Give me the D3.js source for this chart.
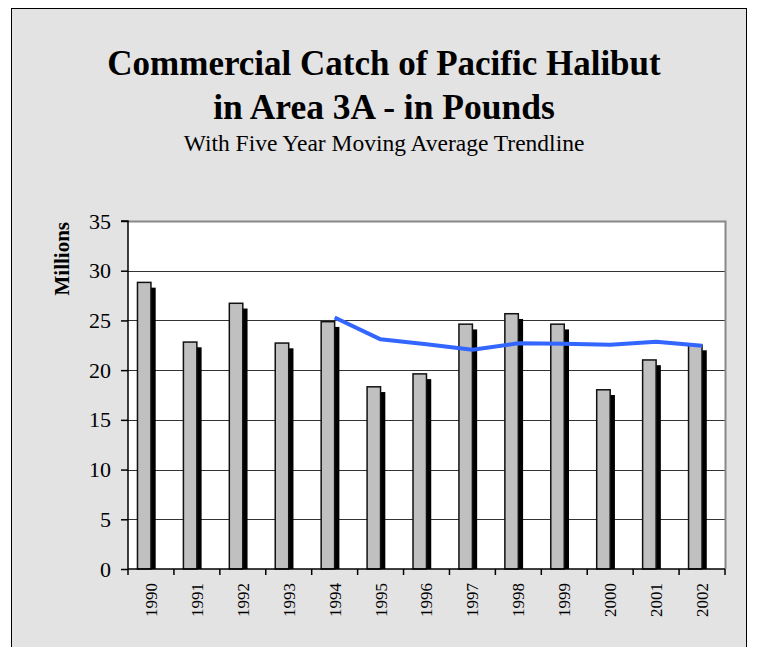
<!DOCTYPE html>
<html>
<head>
<meta charset="utf-8">
<script src="https://cdn.jsdelivr.net/npm/d3@7/dist/d3.min.js"></script>
<style>
  html, body { margin: 0; padding: 0; background: #ffffff; }
  svg { display: block; }
  text { font-family: "Liberation Serif", "Times New Roman", serif; }
</style>
</head>
<body>
<svg id="chart" width="757" height="647"></svg>
<script>
const years = ["1990","1991","1992","1993","1994","1995","1996","1997","1998","1999","2000","2001","2002"];
const catchMillions = [28.9, 22.9, 26.8, 22.8, 24.95, 18.4, 19.7, 24.7, 25.75, 24.7, 18.1, 21.1, 22.6];
const avgYears = ["1994","1995","1996","1997","1998","1999","2000","2001","2002"];
const movingAverage = [25.3, 23.1, 22.6, 22.05, 22.7, 22.65, 22.55, 22.85, 22.45];
const yTicks = [0, 5, 10, 15, 20, 25, 30, 35];
const titleLines = ["Commercial Catch of Pacific Halibut", "in Area 3A - in Pounds"];
const subtitle = "With Five Year Moving Average Trendline";
const yAxisTitle = "Millions";

const svg = d3.select("#chart");

// chart background and border
svg.append("rect").attr("x", 11.5).attr("y", 8.5).attr("width", 735).attr("height", 700)
  .attr("fill", "#e3e3e3").attr("stroke", "#000").attr("stroke-width", 1);

const plot = {left: 128, right: 725, top: 221, bottom: 569};

const x = d3.scaleBand().domain(years).range([plot.left, plot.right]);
const y = d3.scaleLinear().domain([0, 35]).range([plot.bottom, plot.top]);

// plot area
svg.append("rect").attr("x", plot.left).attr("y", plot.top)
  .attr("width", plot.right - plot.left).attr("height", plot.bottom - plot.top)
  .attr("fill", "#ffffff");

// gridlines
svg.append("g").selectAll("line").data(yTicks.filter(t => t > 0 && t < 35)).join("line")
  .attr("x1", plot.left).attr("x2", plot.right)
  .attr("y1", d => Math.round(y(d)) + 0.5).attr("y2", d => Math.round(y(d)) + 0.5)
  .attr("stroke", "#333").attr("stroke-width", 1);

// plot border (top & right grey)
svg.append("path")
  .attr("d", `M${plot.left},${plot.top + 0.5}H${plot.right + 0.5}V${plot.bottom}`)
  .attr("fill", "none").attr("stroke", "#888").attr("stroke-width", 2);

// bars
const bw = x.bandwidth();
const barOff = bw * 0.19, barW = bw * 0.326;
const bars = svg.append("g");
years.forEach((yr, i) => {
  const v = catchMillions[i];
  const bx = x(yr) + barOff;
  const by = y(v);
  bars.append("rect").attr("x", bx + 4).attr("y", by + 6)
    .attr("width", barW).attr("height", Math.max(0, plot.bottom - by - 6))
    .attr("fill", "#000");
  bars.append("rect").attr("x", bx + 0.75).attr("y", by + 0.75)
    .attr("width", barW - 1.5).attr("height", plot.bottom - by - 0.75)
    .attr("fill", "#c0c0c0").attr("stroke", "#111").attr("stroke-width", 1.5);
});

// moving average line
const line = d3.line().x(d => x(d[0]) + bw / 2).y(d => y(d[1]));
svg.append("path").datum(avgYears.map((yr, i) => [yr, movingAverage[i]]))
  .attr("d", line).attr("fill", "none").attr("stroke", "#3366ff")
  .attr("stroke-width", 4).attr("stroke-linejoin", "round");

// y axis
const yAxis = d3.axisLeft(y).tickValues(yTicks).tickSize(7).tickPadding(10);
const gy = svg.append("g").attr("transform", `translate(${plot.left},0)`).call(yAxis);
gy.select(".domain").attr("stroke", "#000").attr("stroke-width", 1.5).attr("d", `M-7,${plot.top}H0V${plot.bottom}`);
gy.selectAll(".tick line").attr("stroke", "#000").attr("stroke-width", 1.5);
gy.selectAll(".tick text").attr("font-size", 22).attr("fill", "#000")
  .attr("font-family", "Liberation Serif, serif");

// x axis
const xAxis = d3.axisBottom(x).tickSize(0).tickPadding(0);
const gx = svg.append("g").attr("transform", `translate(0,${plot.bottom})`).call(xAxis);
gx.select(".domain").attr("stroke", "#000").attr("stroke-width", 1.5).attr("d", `M${plot.left},0H${plot.right}`);
gx.selectAll(".tick text")
  .attr("font-size", 17).attr("fill", "#000").attr("font-family", "Liberation Serif, serif")
  .attr("transform", "rotate(-90)")
  .attr("text-anchor", "end").attr("x", -14).attr("y", 0).attr("dy", "0.35em");
const bounds = years.map(yr => x(yr)).concat([plot.right]);
gx.append("g").selectAll("line").data(bounds).join("line")
  .attr("x1", d => d).attr("x2", d => d).attr("y1", 0).attr("y2", 6)
  .attr("stroke", "#000").attr("stroke-width", 1.5);

// y axis title
svg.append("text").attr("transform", `translate(69,222) rotate(-90)`)
  .attr("text-anchor", "end").attr("font-size", 21).attr("font-weight", "bold")
  .text(yAxisTitle);

// titles
svg.append("text").attr("x", 384).attr("y", 74.5).attr("text-anchor", "middle")
  .attr("font-size", 35).attr("font-weight", "bold").text(titleLines[0]);
svg.append("text").attr("x", 384).attr("y", 119).attr("text-anchor", "middle")
  .attr("font-size", 35.5).attr("font-weight", "bold").text(titleLines[1]);
svg.append("text").attr("x", 384).attr("y", 150.5).attr("text-anchor", "middle")
  .attr("font-size", 23.5).text(subtitle);
</script>
</body>
</html>
